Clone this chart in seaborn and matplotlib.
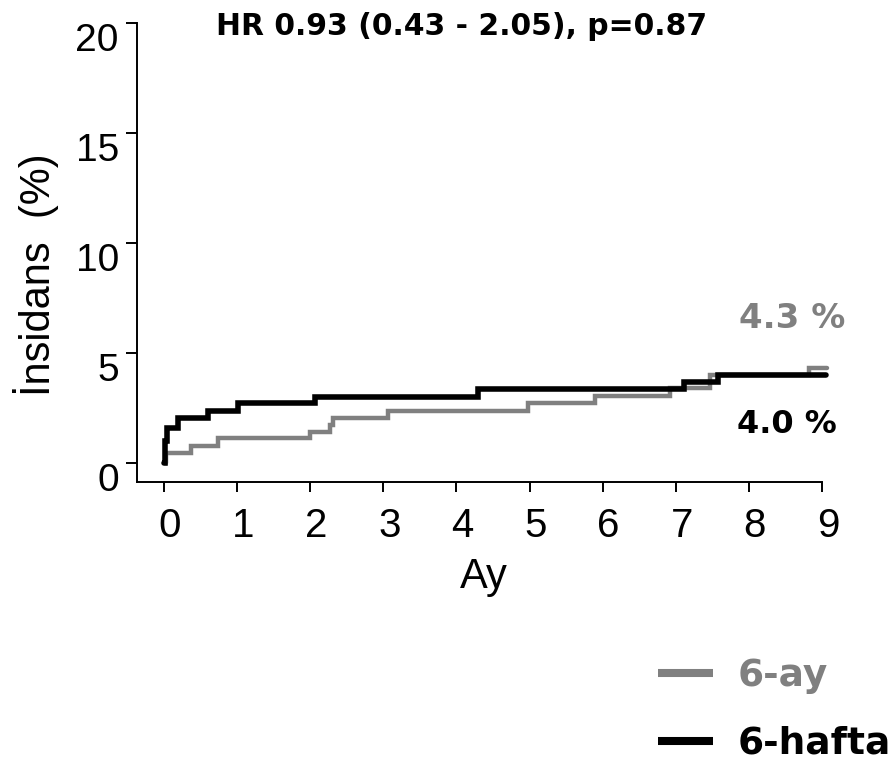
import matplotlib
matplotlib.use("Agg")
import matplotlib.pyplot as plt
import matplotlib.transforms as mtransforms
from matplotlib.lines import Line2D
import numpy as np
import pandas as pd
import seaborn as sns

# Cumulative incidence step curves (months, %)
months_6hafta = [0.0, 0.01, 0.04, 0.19, 0.60, 1.01, 2.06, 4.30, 7.11, 7.58, 9.05]
incid_6hafta = [0.0, 1.0, 1.6, 2.03, 2.36, 2.71, 3.01, 3.36, 3.70, 4.0, 4.0]

months_6ay = [0.02, 0.03, 0.37, 0.74, 1.99, 2.27, 2.31, 3.07, 4.98, 5.90, 6.92, 7.47, 8.82, 9.07]
incid_6ay = [0.0, 0.45, 0.78, 1.12, 1.42, 1.73, 2.05, 2.38, 2.71, 3.05, 3.39, 4.0, 4.3, 4.3]

groups = ["6-ay", "6-hafta"]
group_colors = ["#808080", "#000000"]
x_ticks = list(range(0, 10))
y_ticks = [0, 5, 10, 15, 20]
title_text = "HR 0.93 (0.43 - 2.05), p=0.87"

sns.set_style("ticks")
plt.rcParams["font.family"] = ["Liberation Sans", "DejaVu Sans"]
plt.rcParams.update({
    "text.color": "black",
    "axes.labelcolor": "black",
    "xtick.color": "black",
    "ytick.color": "black",
})

BOLD = {"family": "DejaVu Sans", "weight": "bold"}

W, H, DPI = 894, 771, 100
fig = plt.figure(figsize=(W / DPI, H / DPI), dpi=DPI)
ax = fig.add_axes([137 / W, 1 - 482 / H, 685 / W, 459 / H])

df = pd.concat([
    pd.DataFrame({"Ay": months_6ay, "inc": incid_6ay, "grup": groups[0]}),
    pd.DataFrame({"Ay": months_6hafta, "inc": incid_6hafta, "grup": groups[1]}),
])

widths = {"6-ay": 3.2, "6-hafta": 4.0}
for g, c in zip(groups, group_colors):
    sub = df[df["grup"] == g]
    sns.lineplot(data=sub, x="Ay", y="inc", ax=ax, color=c, lw=widths[g],
                 drawstyle="steps-post", estimator=None, sort=False,
                 legend=False, clip_on=False, solid_joinstyle="miter")

ax.set_xlim(-0.37, 9.0)
ax.set_ylim(-0.86, 20)
ax.set_xticks(x_ticks)
ax.set_yticks(y_ticks)
ax.set_xticklabels([str(v) for v in x_ticks])
ax.set_yticklabels([str(v) for v in y_ticks])

for side in ["top", "right"]:
    ax.spines[side].set_visible(False)
for side in ["left", "bottom"]:
    ax.spines[side].set_linewidth(1.4)
    ax.spines[side].set_color("#000000")

ax.tick_params(axis="both", direction="out", width=1.4, color="#000000",
               labelcolor="#000000", bottom=True, left=True)
ax.tick_params(axis="x", labelsize=29, length=7.2, pad=32.4)
ax.tick_params(axis="y", labelsize=28, length=7.9, pad=5.2)

x_shift = mtransforms.ScaledTranslation(6 / DPI, 0, fig.dpi_scale_trans)
for lab in ax.get_xticklabels():
    lab.set_va("baseline")
    lab.set_transform(lab.get_transform() + x_shift)
y_shift = mtransforms.ScaledTranslation(0, -28 / DPI, fig.dpi_scale_trans)
for lab in ax.get_yticklabels():
    lab.set_va("baseline")
    lab.set_transform(lab.get_transform() + y_shift)

ax.set_xlabel("Ay", fontsize=30, color="black")
ax.xaxis.label.set_va("baseline")
ax.xaxis.set_label_coords((484 - 137) / 685, -(588 - 482) / 459)

ax.set_ylabel("İnsidans  (%)", fontsize=30, rotation=90, color="black")
ax.yaxis.label.set_va("baseline")
ax.yaxis.label.set_rotation_mode("anchor")
ax.yaxis.set_label_coords((50 - 137) / 685, (482 - 275) / 459)

fig.text(461.5 / W, 1 - 35 / H, title_text, ha="center", va="baseline",
         fontsize=21.5, color="black", **BOLD)

# Final incidence labels
ax.text(7.86, 6.14, f"{incid_6ay[-1]:.1f} %", color=group_colors[0],
        fontsize=24.5, ha="left", va="baseline", **BOLD)
ax.text(7.84, 1.36, f"{incid_6hafta[-1]:.1f} %", color=group_colors[1],
        fontsize=23, ha="left", va="baseline", **BOLD)

handles = [Line2D([], [], color=c, lw=5.8, solid_capstyle="butt") for c in group_colors]
leg = fig.legend(handles, groups, loc="upper left",
                 bbox_to_anchor=(658 / W, 1 - 658 / H), frameon=False,
                 prop={"family": "DejaVu Sans", "weight": "bold", "size": 27},
                 handlelength=1.47, handletextpad=0.64, labelspacing=0.85,
                 borderaxespad=0, borderpad=0)
for txt, c in zip(leg.get_texts(), group_colors):
    txt.set_color(c)

fig.savefig("out.png", dpi=DPI)
